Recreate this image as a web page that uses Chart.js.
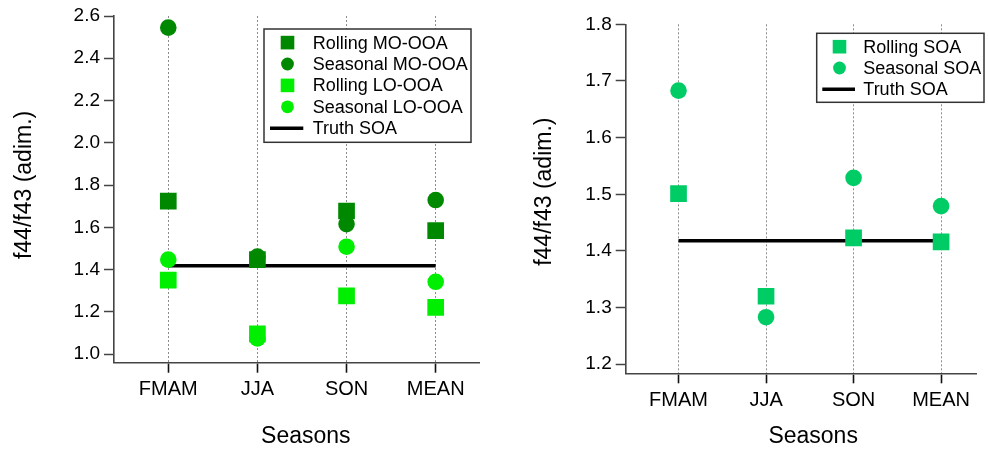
<!DOCTYPE html>
<html>
<head>
<meta charset="utf-8">
<script src="https://cdn.jsdelivr.net/npm/chart.js@4.4.0/dist/chart.umd.min.js"></script>
<style>
  html, body { margin: 0; padding: 0; background: #fff; }
  body { width: 988px; height: 450px; overflow: hidden; position: relative; }
  .pane { position: absolute; top: 0; width: 494px; height: 450px; }
</style>
</head>
<body>
<div class="pane" style="left:0"><canvas id="c1" width="494" height="450"></canvas></div>
<div class="pane" style="left:494px"><canvas id="c2" width="494" height="450"></canvas></div>
<script>
// ---------- data ----------
const seasons = ['FMAM', 'JJA', 'SON', 'MEAN'];

const rollingMO  = [1.724, 1.447, 1.677, 1.584];
const seasonalMO = [2.545, 1.461, 1.615, 1.729];
const rollingLO  = [1.350, 1.095, 1.275, 1.221];
const seasonalLO = [1.447, 1.074, 1.508, 1.342];
const truthLeft  = [1.418, 1.418, 1.418, 1.418];

const rollingSOA  = [1.501, 1.320, 1.423, 1.416];
const seasonalSOA = [1.683, 1.283, 1.529, 1.479];
const truthRight  = [1.418, 1.418, 1.418, 1.418];

const leftYTicks  = [1.0, 1.2, 1.4, 1.6, 1.8, 2.0, 2.2, 2.4, 2.6];
const rightYTicks = [1.2, 1.3, 1.4, 1.5, 1.6, 1.7, 1.8];

// ---------- styling ----------
const FONT = '"Liberation Sans", Arial, sans-serif';
const DARK = '#008800';
const LIGHT = '#00ee00';
const SOA = '#00cc66';

const toPts = arr => arr.map((v, i) => ({ x: i, y: v }));

function scatterDs(label, arr, color, style) {
  return {
    label, data: toPts(arr), backgroundColor: color, borderColor: color,
    pointStyle: style, pointRadius: style === 'rect' ? 11.8 : 8.3,
    borderWidth: 0, showLine: false
  };
}
function truthDs(label, arr) {
  return {
    type: 'line', label, data: toPts(arr), borderColor: '#000', backgroundColor: '#000',
    borderWidth: 3.5, pointRadius: 0, fill: false, tension: 0
  };
}

// legend drawn as a bordered box inside the plot
const boxLegend = {
  id: 'boxLegend',
  afterDatasetsDraw(chart, args, o) {
    const ctx = chart.ctx;
    ctx.save();
    ctx.fillStyle = '#fff';
    ctx.fillRect(o.x, o.y, o.w, o.h);
    ctx.strokeStyle = '#333';
    ctx.lineWidth = 1.5;
    ctx.strokeRect(o.x, o.y, o.w, o.h);
    chart.data.datasets.forEach((ds, i) => {
      const cy = o.firstRow + i * o.rowH;
      if (ds.type === 'line') {
        ctx.strokeStyle = ds.borderColor;
        ctx.lineWidth = 3.5;
        ctx.beginPath();
        ctx.moveTo(o.lineX1, cy);
        ctx.lineTo(o.lineX2, cy);
        ctx.stroke();
      } else if (ds.pointStyle === 'rect') {
        ctx.fillStyle = ds.backgroundColor;
        ctx.fillRect(o.symX - 6.8, cy - 6.8, 13.6, 13.6);
      } else {
        ctx.fillStyle = ds.backgroundColor;
        ctx.beginPath();
        ctx.arc(o.symX, cy, 6.4, 0, Math.PI * 2);
        ctx.fill();
      }
      ctx.fillStyle = '#000';
      ctx.font = '18px ' + FONT;
      ctx.textBaseline = 'middle';
      ctx.textAlign = 'left';
      ctx.fillText(ds.label, o.textX, cy + 1);
    });
    ctx.restore();
  }
};

// shift axis titles slightly (the original centres them on the category span)
const titleShift = {
  id: 'titleShift',
  afterLayout(chart, args, o) {
    const sx = chart.scales.x, sy = chart.scales.y;
    if (sx && !sx.__shifted) {
      const orig = sx.drawTitle;
      sx.drawTitle = function () {
        this.left += o.dx; this.right += o.dx;
        orig.call(this);
        this.left -= o.dx; this.right -= o.dx;
      };
      sx.__shifted = true;
    }
    if (sy && !sy.__shifted) {
      const orig = sy.drawTitle;
      sy.drawTitle = function () {
        this.top += o.dy; this.bottom += o.dy;
        orig.call(this);
        this.top -= o.dy; this.bottom -= o.dy;
      };
      sy.__shifted = true;
    }
  }
};

function makeChart(id, cfg) {
  return new Chart(document.getElementById(id), {
    type: 'scatter',
    data: { datasets: cfg.datasets },
    plugins: [boxLegend, titleShift],
    options: {
      responsive: false,
      animation: false,
      events: [],
      layout: { padding: cfg.padding },
      plugins: {
        legend: { display: false },
        tooltip: { enabled: false },
        boxLegend: cfg.legend,
        titleShift: cfg.shift
      },
      scales: {
        x: {
          type: 'linear',
          min: cfg.xMin, max: cfg.xMax,
          afterBuildTicks: s => { s.ticks = seasons.map((_, i) => ({ value: i })); },
          afterFit: s => { s.height = cfg.xHeight; },
          ticks: {
            callback: v => seasons[v],
            font: { family: FONT, size: 20 },
            color: '#000',
            padding: 5,
            maxRotation: 0,
            autoSkip: false
          },
          grid: {
            display: true, drawOnChartArea: true, drawTicks: true,
            color: '#8c8c8c', lineWidth: 1,
            tickLength: 10, tickColor: '#111', tickWidth: 1.6, tickBorderDash: []
          },
          border: { display: true, color: '#444', width: 1.6, dash: [2, 2] },
          title: {
            display: true, text: 'Seasons',
            font: { family: FONT, size: 23 }, color: '#000',
            padding: { top: 0, bottom: 0 }
          }
        },
        y: {
          type: 'linear',
          min: cfg.yMin, max: cfg.yMax,
          afterBuildTicks: s => { s.ticks = cfg.yTicks.map(v => ({ value: v })); },
          afterFit: s => { s.width = cfg.yWidth; },
          ticks: {
            callback: v => v.toFixed(1),
            font: { family: FONT, size: 19 },
            color: '#000',
            padding: 4
          },
          grid: {
            display: true, drawOnChartArea: false, drawTicks: true,
            tickLength: 10, tickColor: '#444', tickWidth: 1.5
          },
          border: { display: true, color: '#444', width: 1.6 },
          title: {
            display: true, text: 'f44/f43 (adim.)',
            font: { family: FONT, size: 23 }, color: '#000',
            padding: { top: cfg.yTitlePad, bottom: 0 }
          }
        }
      }
    }
  });
}

makeChart('c1', {
  datasets: [
    scatterDs('Rolling MO-OOA', rollingMO, DARK, 'rect'),
    scatterDs('Seasonal MO-OOA', seasonalMO, DARK, 'circle'),
    scatterDs('Rolling LO-OOA', rollingLO, LIGHT, 'rect'),
    scatterDs('Seasonal LO-OOA', seasonalLO, LIGHT, 'circle'),
    truthDs('Truth SOA', truthLeft)
  ],
  padding: { left: 0, right: 15, top: 16, bottom: 0 },
  xMin: -0.609, xMax: 3.486,
  yMin: 0.959, yMax: 2.6,
  yTicks: leftYTicks,
  xHeight: 87.3,
  yWidth: 114,
  yTitlePad: 11.2,
  shift: { dx: 9.3, dy: -4.4 },
  legend: { x: 264, y: 29, w: 207, h: 113.3, firstRow: 42.6, rowH: 21.4,
            symX: 287.5, textX: 312.7, lineX1: 270, lineX2: 303.3 }
});

makeChart('c2', {
  datasets: [
    scatterDs('Rolling SOA', rollingSOA, SOA, 'rect'),
    scatterDs('Seasonal SOA', seasonalSOA, SOA, 'circle'),
    truthDs('Truth SOA', truthRight)
  ],
  padding: { left: 0, right: 0, top: 24.3, bottom: 0 },
  xMin: -0.6035, xMax: 3.401,
  yMin: 1.184, yMax: 1.8,
  yTicks: rightYTicks,
  xHeight: 76.7,
  yWidth: 131.7,
  yTitlePad: 37.2,
  shift: { dx: 12.2, dy: -7.1 },
  legend: { x: 322.7, y: 33.3, w: 167.3, h: 69, firstRow: 46.7, rowH: 21.3,
            symX: 345.5, textX: 369.3, lineX1: 328.3, lineX2: 361 }
});
</script>
</body>
</html>
